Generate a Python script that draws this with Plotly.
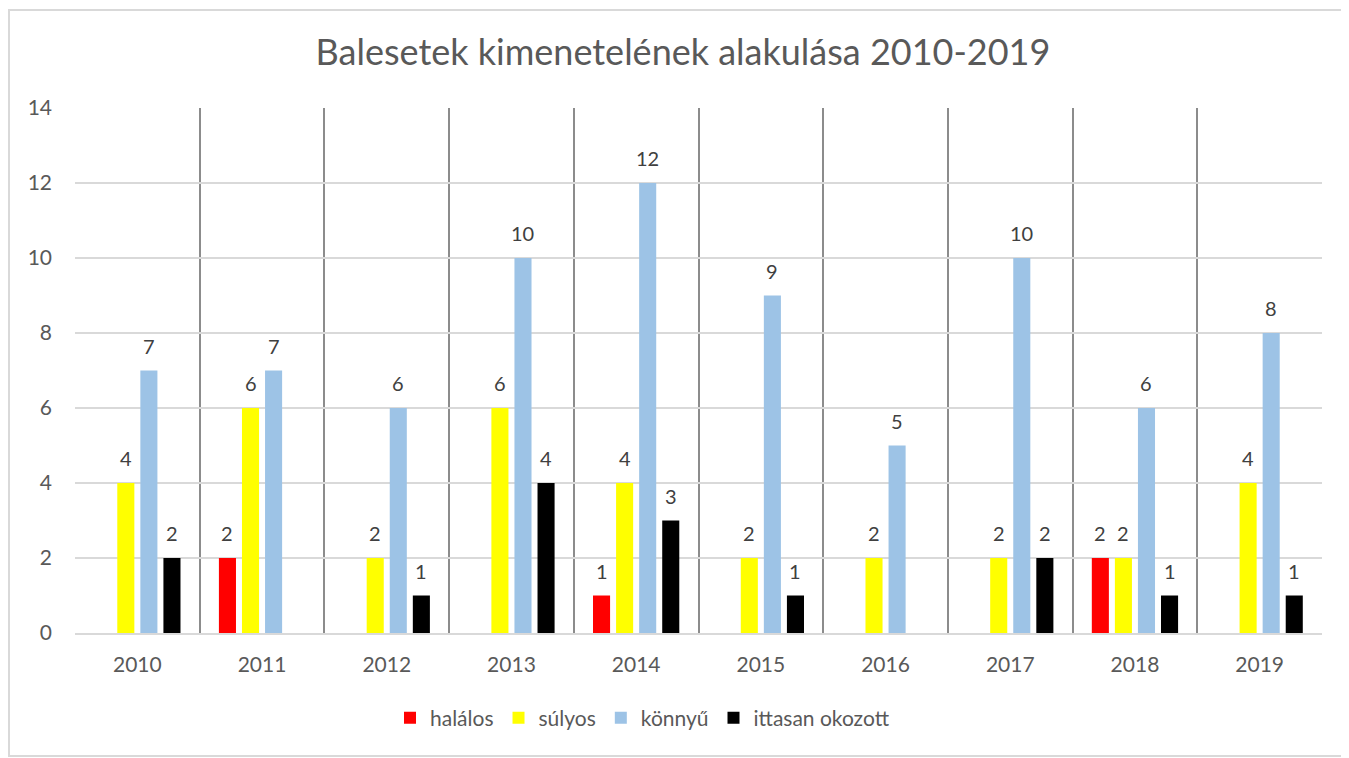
import plotly.graph_objects as go

years = ["2010", "2011", "2012", "2013", "2014", "2015", "2016", "2017", "2018", "2019"]
halalos = [0, 2, 0, 0, 1, 0, 0, 0, 2, 0]
sulyos = [4, 6, 2, 6, 4, 2, 2, 2, 2, 4]
konnyu = [7, 7, 6, 10, 12, 9, 5, 10, 6, 8]
ittasan = [2, 0, 1, 4, 3, 1, 0, 2, 1, 1]

series_names = ["halálos", "súlyos", "könnyű", "ittasan okozott"]
series_values = [halalos, sulyos, konnyu, ittasan]
series_colors = ["#FF0000", "#FFFF00", "#9DC3E6", "#000000"]

FONT = "Lato"
BARGAP = 0.26
BARGROUPGAP = 0.26
W, H = 1341, 750
ML, MR, MT, MB = 67, 27, 100, 125
PW, PH = W - ML - MR, H - MT - MB

fig = go.Figure()
for name, vals, col in zip(series_names, series_values, series_colors):
    fig.add_trace(go.Bar(
        x=years, y=vals, name=name,
        marker=dict(color=col, line=dict(width=0)),
    ))

# data labels (skip zeros), positioned over each bar of the group
n = len(series_names)
slot = (1 - BARGAP) / n
annotations = []
for k, vals in enumerate(series_values):
    off = -(1 - BARGAP) / 2 + slot * (k + 0.5)
    for i, v in enumerate(vals):
        if v == 0:
            continue
        annotations.append(dict(
            x=i + off, y=v, xref="x", yref="y", text=str(v), showarrow=False,
            yanchor="bottom", yshift=11,
            font=dict(family=FONT, size=20, color="#404040"),
        ))

fig.update_layout(
    width=W, height=H,
    margin=dict(l=ML, r=MR, t=MT, b=MB),
    paper_bgcolor="white", plot_bgcolor="white",
    barmode="group", bargap=BARGAP, bargroupgap=BARGROUPGAP,
    title=dict(text="Balesetek kimenetelének alakulása 2010-2019",
               x=675 / W, xanchor="center", y=1 - 44 / H, yanchor="middle",
               font=dict(family=FONT, size=36, color="#595959")),
    font=dict(family=FONT, color="#595959"),
    legend=dict(orientation="h", x=0.5 - 56 / PW, xanchor="center", y=-85 / PH, yanchor="middle",
                font=dict(family=FONT, size=21, color="#595959"),
                itemwidth=30, tracegroupgap=0),
    annotations=annotations,
    showlegend=True,
)
fig.update_xaxes(
    type="category", tickson="boundaries", showgrid=True, gridcolor="#8C8C8C", gridwidth=1.5,
    ticks="", showline=True, linecolor="#D9D9D9", linewidth=1.5,
    tickfont=dict(family=FONT, size=21, color="#595959"), ticklabelstandoff=12,
    zeroline=False,
)
fig.update_yaxes(
    range=[0, 14], dtick=2, showgrid=True, gridcolor="#D9D9D9", gridwidth=1.5,
    zeroline=False, showline=False, ticks="",
    tickfont=dict(family=FONT, size=21, color="#595959"), ticklabelstandoff=22,
)
# outer chart border
fig.add_shape(type="rect", xref="paper", yref="paper",
              x0=(9 - 75) / PW, x1=(1342 - 75) / PW,
              y0=(633 - 756) / PH, y1=(633 - 10) / PH,
              line=dict(color="#D9D9D9", width=2), fillcolor="rgba(0,0,0,0)", layer="below")

fig.write_html("out.html")
